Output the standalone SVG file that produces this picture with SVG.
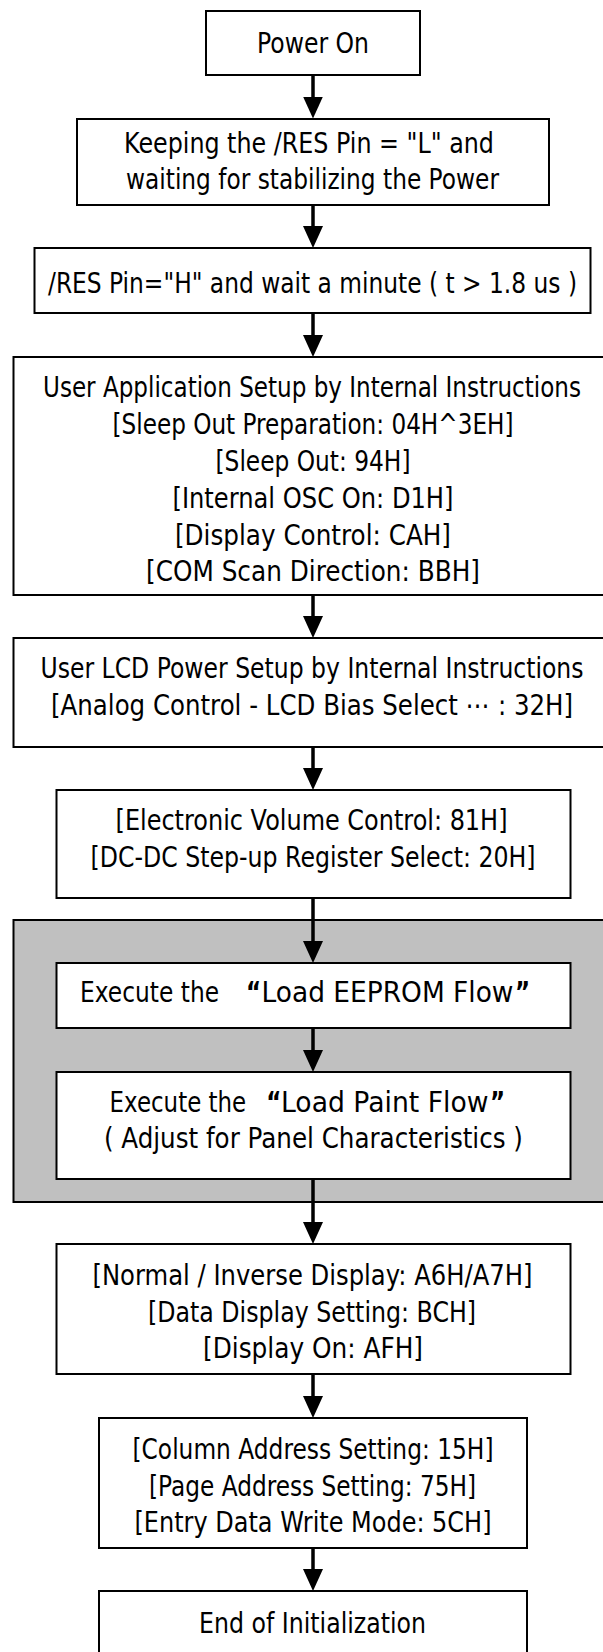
<svg xmlns="http://www.w3.org/2000/svg" width="603" height="1652" viewBox="0 0 603 1652">
<defs>
<style>
.box{fill:#fff;stroke:#000;stroke-width:2}
.grp{fill:#c0c0c0;stroke:#000;stroke-width:2}
.t{font-family:"DejaVu Sans",sans-serif;font-size:28px;fill:#000;text-anchor:middle}
.s{text-anchor:start}
.q{font-weight:bold}
.c{stroke:#000;stroke-width:3.5;fill:none;marker-end:url(#ah)}
</style>
<marker id="ah" viewBox="0 0 22 20" refX="12" refY="10" markerWidth="22" markerHeight="20" markerUnits="userSpaceOnUse" orient="auto">
<path d="M0,0 L22,10 L0,20 z" fill="#000"/>
</marker>
</defs>
<rect id="group-bg" class="grp" x="13.5" y="920" width="600" height="282"/>
<g id="n1"><rect class="box" x="206" y="11" width="214" height="64"/><g transform="matrix(0.82 0 0 1 56.34 0)">
<text class="t" x="313" y="53" textLength="136.6" lengthAdjust="spacingAndGlyphs">Power On</text></g></g>
<g id="n2"><rect class="box" x="77" y="119" width="472" height="86"/><g transform="matrix(0.82 0 0 1 56.34 0)">
<text class="t" x="308.1" y="153" textLength="451.2" lengthAdjust="spacingAndGlyphs">Keeping the /RES Pin = "L" and</text>
<text class="t" x="312.4" y="189.5" textLength="454.9" lengthAdjust="spacingAndGlyphs">waiting for stabilizing the Power</text></g></g>
<g id="n3"><rect class="box" x="34.5" y="248" width="556" height="65"/><g transform="matrix(0.82 0 0 1 56.34 0)">
<text class="t" x="312.4" y="293" textLength="645.1" lengthAdjust="spacingAndGlyphs">/RES Pin="H" and wait a minute ( t &gt; 1.8 us )</text></g></g>
<g id="n4"><rect class="box" x="13.5" y="357" width="600" height="238"/><g transform="matrix(0.82 0 0 1 56.34 0)">
<text class="t" x="311.8" y="397" textLength="656.1" lengthAdjust="spacingAndGlyphs">User Application Setup by Internal Instructions</text>
<text class="t" x="313" y="434" textLength="489" lengthAdjust="spacingAndGlyphs">[Sleep Out Preparation: 04H^3EH]</text>
<text class="t" x="313" y="471.5" textLength="237.8" lengthAdjust="spacingAndGlyphs">[Sleep Out: 94H]</text>
<text class="t" x="313" y="508.5" textLength="342.7" lengthAdjust="spacingAndGlyphs">[Internal OSC On: D1H]</text>
<text class="t" x="313" y="545" textLength="336.6" lengthAdjust="spacingAndGlyphs">[Display Control: CAH]</text>
<text class="t" x="313" y="581" textLength="407.3" lengthAdjust="spacingAndGlyphs">[COM Scan Direction: BBH]</text></g></g>
<g id="n5"><rect class="box" x="13.5" y="638" width="600" height="109"/><g transform="matrix(0.82 0 0 1 56.34 0)">
<text class="t" x="311.8" y="678" textLength="662.2" lengthAdjust="spacingAndGlyphs">User LCD Power Setup by Internal Instructions</text>
<text class="t" x="311.8" y="715" textLength="636.6" lengthAdjust="spacingAndGlyphs">[Analog Control - LCD Bias Select ⋯ : 32H]</text></g></g>
<g id="n6"><rect class="box" x="56.5" y="790" width="514" height="108"/><g transform="matrix(0.82 0 0 1 56.34 0)">
<text class="t" x="311.2" y="830" textLength="478" lengthAdjust="spacingAndGlyphs">[Electronic Volume Control: 81H]</text>
<text class="t" x="313" y="867" textLength="542.7" lengthAdjust="spacingAndGlyphs">[DC-DC Step-up Register Select: 20H]</text></g></g>
<g id="n7"><rect class="box" x="56.5" y="963" width="514" height="65"/><g transform="matrix(0.82 0 0 1 56.34 0)">
<text class="t s" x="28.9" y="1002" textLength="169.5" lengthAdjust="spacingAndGlyphs">Execute the</text>
<text class="t s q" x="231.3" y="1002">“</text>
<text class="t s" x="250.2" y="1002" textLength="307.3" lengthAdjust="spacingAndGlyphs">Load EEPROM Flow</text>
<text class="t s q" x="559.3" y="1002">”</text></g></g>
<g id="n8"><rect class="box" x="56.5" y="1072" width="514" height="107"/><g transform="matrix(0.82 0 0 1 56.34 0)">
<text class="t s" x="64.9" y="1112" textLength="166.6" lengthAdjust="spacingAndGlyphs">Execute the</text>
<text class="t s q" x="256" y="1112">“</text>
<text class="t s" x="274" y="1112" textLength="253" lengthAdjust="spacingAndGlyphs">Load Paint Flow</text>
<text class="t s q" x="528.8" y="1112">”</text>
<text class="t" x="313.5" y="1148.5" textLength="511" lengthAdjust="spacingAndGlyphs">( Adjust for Panel Characteristics )</text></g></g>
<g id="n9"><rect class="box" x="56.5" y="1244" width="514" height="130"/><g transform="matrix(0.82 0 0 1 56.34 0)">
<text class="t" x="312.4" y="1285" textLength="536.6" lengthAdjust="spacingAndGlyphs">[Normal / Inverse Display: A6H/A7H]</text>
<text class="t" x="311.8" y="1322" textLength="400" lengthAdjust="spacingAndGlyphs">[Data Display Setting: BCH]</text>
<text class="t" x="313" y="1358.5" textLength="268.3" lengthAdjust="spacingAndGlyphs">[Display On: AFH]</text></g></g>
<g id="n10"><rect class="box" x="99" y="1418" width="428" height="130"/><g transform="matrix(0.82 0 0 1 56.34 0)">
<text class="t" x="313" y="1459.5" textLength="440.2" lengthAdjust="spacingAndGlyphs">[Column Address Setting: 15H]</text>
<text class="t" x="312.4" y="1496" textLength="398.8" lengthAdjust="spacingAndGlyphs">[Page Address Setting: 75H]</text>
<text class="t" x="313" y="1532" textLength="435.4" lengthAdjust="spacingAndGlyphs">[Entry Data Write Mode: 5CH]</text></g></g>
<g id="n11"><rect class="box" x="99" y="1591" width="428" height="80"/><g transform="matrix(0.82 0 0 1 56.34 0)">
<text class="t" x="312.4" y="1633" textLength="276.8" lengthAdjust="spacingAndGlyphs">End of Initialization</text></g></g>
<g id="connectors">
<line class="c" x1="313" y1="75" x2="313" y2="108.5"/>
<line class="c" x1="313" y1="205" x2="313" y2="238"/>
<line class="c" x1="313" y1="313" x2="313" y2="347"/>
<line class="c" x1="313" y1="595" x2="313" y2="628"/>
<line class="c" x1="313" y1="747" x2="313" y2="780"/>
<line class="c" x1="313" y1="898" x2="313" y2="953"/>
<line class="c" x1="313" y1="1028" x2="313" y2="1062"/>
<line class="c" x1="313" y1="1179" x2="313" y2="1234"/>
<line class="c" x1="313" y1="1374" x2="313" y2="1408"/>
<line class="c" x1="313" y1="1548" x2="313" y2="1581"/>
</g>
</svg>
